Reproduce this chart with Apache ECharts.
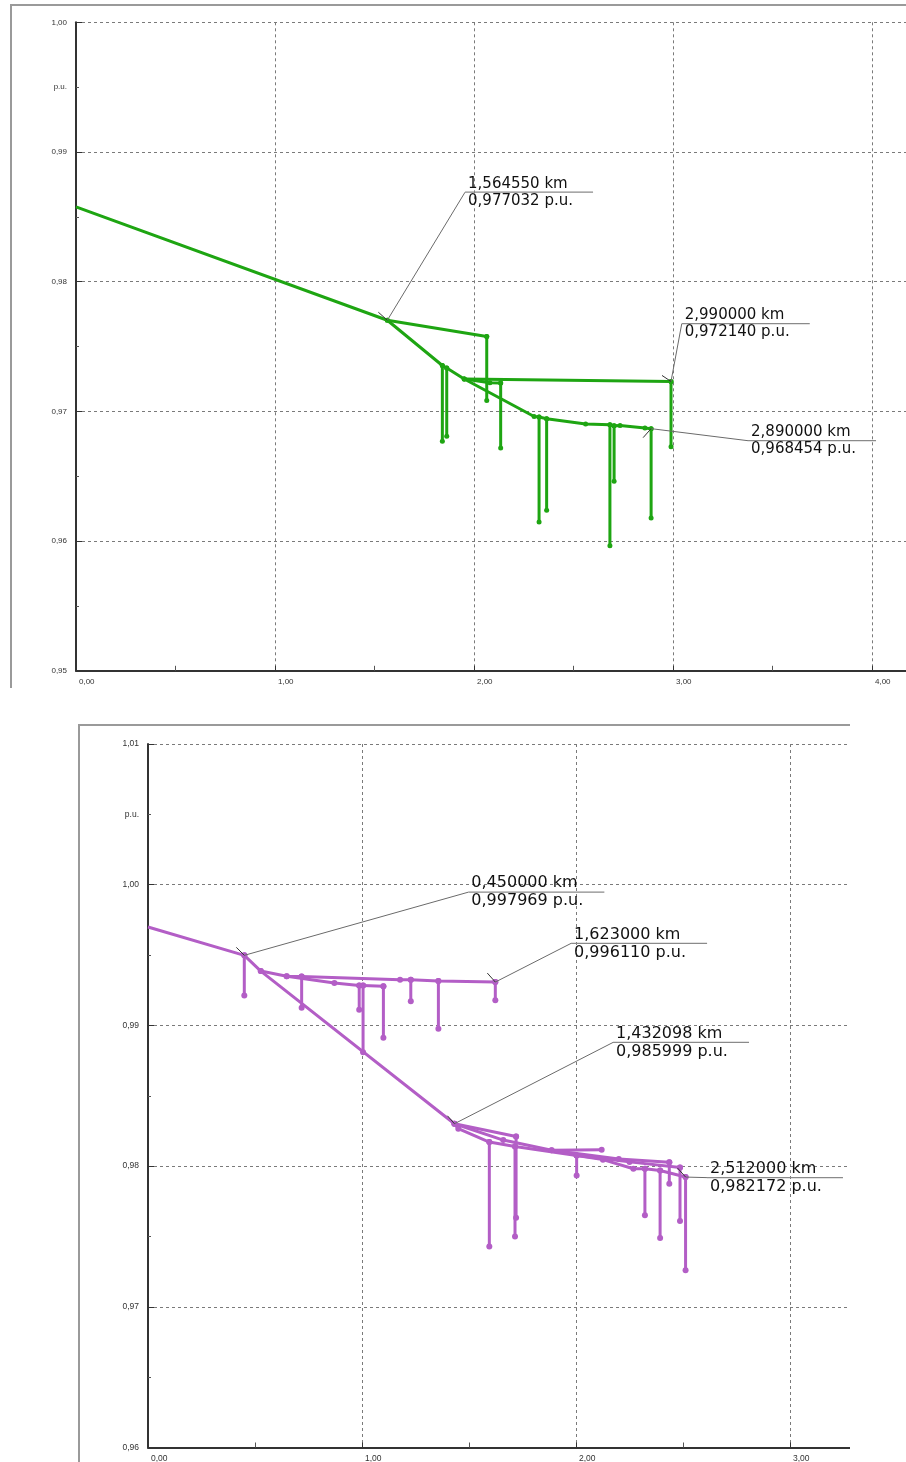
<!DOCTYPE html>
<html>
<head>
<meta charset="utf-8">
<script src="https://cdn.jsdelivr.net/npm/echarts@6/dist/echarts.min.js"></script>
<style>
  html, body { margin:0; padding:0; background:#fff; }
  body { width:906px; height:1462px; position:relative; overflow:hidden; }
  .ln { position:absolute; background:#9a9a9a; }
  #c1 { position:absolute; left:11px; top:5px; width:895px; height:683px; }
  #c2 { position:absolute; left:79px; top:725px; width:771px; height:737px; }
</style>
</head>
<body>
<div class="ln" style="left:10px;top:4px;width:896px;height:1.5px"></div>
<div class="ln" style="left:10px;top:4px;width:1.5px;height:684px"></div>
<div class="ln" style="left:78px;top:724px;width:772px;height:1.5px"></div>
<div class="ln" style="left:78px;top:724px;width:1.5px;height:738px"></div>
<div id="c1"></div>
<div id="c2"></div>
<script>
// ===== Top chart (green) data: [km, p.u.] =====
const greenMain = [[0,0.98577],[1.5645,0.97703],[1.841,0.97354],[1.863,0.97334],[1.951,0.97250],[2.302,0.96961],[2.327,0.96957],[2.365,0.96944],[2.561,0.96903],[2.683,0.96898],[2.704,0.96890],[2.734,0.96892],[2.859,0.96872],[2.89,0.96867]];
const greenBranchA = [[1.5645,0.97703],[2.064,0.97578]];
const greenBranchC = [[1.951,0.97250],[2.080,0.97221],[2.134,0.97219]];
const greenBranchD = [[1.951,0.97250],[2.99,0.97231]];
// drops: [km, from, to]
const greenDrops = [[1.841,0.97354,0.96769],[1.863,0.97334,0.96809],[2.064,0.97578,0.97085],[2.134,0.97219,0.96718],[2.99,0.97231,0.96728],[2.327,0.96957,0.96148],[2.365,0.96944,0.96237],[2.683,0.96898,0.95965],[2.704,0.96890,0.96461],[2.89,0.96867,0.96179]];
// annotations: [km, pu, labelKm, labelPu]
const greenNotes = [[1.5645,0.97703,1.955,0.98690],[2.99,0.97231,3.044,0.97676],[2.89,0.96867,3.377,0.96774]];
const greenNoteText = [["1,564550 km","0,977032 p.u."],["2,990000 km","0,972140 p.u."],["2,890000 km","0,968454 p.u."]];
const greenTicks = [[-9,-8],[-9,-6],[-8,9]];

// ===== Bottom chart (purple) data =====
const purpleMain = [[0,0.99699],[0.45,0.99498],[0.527,0.99386],[1.432,0.98301],[1.45,0.98266],[1.595,0.98171],[1.715,0.98140],[2.003,0.98076],[2.126,0.98046],[2.268,0.97981],[2.322,0.97981],[2.393,0.97969],[2.512,0.97922]];
const purpleUpper1 = [[0.527,0.99386],[0.648,0.99350],[0.718,0.99348],[1.178,0.99325],[1.228,0.99325],[1.357,0.99315],[1.623,0.99308]];
const purpleUpper2 = [[0.648,0.99350],[0.871,0.99301],[0.987,0.99284],[1.005,0.99284],[1.100,0.99279]];
const purpleB1 = [[1.432,0.98301],[1.72,0.98211]];
const purpleB2 = [[1.432,0.98301],[1.66,0.98185],[1.886,0.98112],[2.12,0.98117]];
const purpleB3 = [[1.886,0.98112],[2.20,0.98050],[2.436,0.98028]];
const purpleB4 = [[2.003,0.98076],[2.25,0.98030],[2.486,0.97990]];
const purpleDrops = [[0.45,0.99498,0.99213],[0.718,0.99348,0.99126],[0.987,0.99284,0.99112],[1.005,0.99284,0.98810],[1.100,0.99279,0.98913],[1.228,0.99325,0.99171],[1.357,0.99315,0.98977],[1.623,0.99308,0.99178],[1.595,0.98171,0.97429],[1.715,0.98140,0.97500],[1.72,0.98211,0.97633],[2.003,0.98076,0.97934],[2.322,0.97981,0.97650],[2.393,0.97969,0.97489],[2.436,0.98028,0.97875],[2.486,0.97990,0.97609],[2.512,0.97922,0.97259]];
const purpleNotes = [[0.45,0.99498,1.497,0.99947],[1.623,0.99308,1.977,0.99583],[1.432,0.98301,2.173,0.98879],[2.512,0.97922,2.612,0.97918]];
const purpleNoteText = [["0,450000 km","0,997969 p.u."],["1,623000 km","0,996110 p.u."],["1,432098 km","0,985999 p.u."],["2,512000 km","0,982172 p.u."]];
const purpleTicks = [[-8,-8],[-8,-9],[-7,-8],[-8,-9]];

const fmt = v => v.toFixed(2).replace('.', ',');
const tickFont = "'Liberation Sans Narrow','Arial Narrow','Liberation Sans',sans-serif";

function build(cfg) {
  const series = [];
  cfg.paths.forEach((p, pi) => {
    series.push({
      type:'line', xAxisIndex:0, yAxisIndex:0, animation:false, silent:true,
      data: p.map((pt, i) => (pi === 0 && i === 0) ? {value: pt, symbol:'none'} : pt),
      symbol:'circle', symbolSize: cfg.dot, showSymbol:true,
      lineStyle:{color: cfg.color, width: cfg.lw},
      itemStyle:{color: cfg.color}, z:3
    });
  });
  cfg.drops.forEach(d => {
    series.push({
      type:'line', animation:false, silent:true,
      data: [[d[0], d[1]], [d[0], d[2]]],
      symbol:'circle', symbolSize: cfg.dot,
      lineStyle:{color: cfg.color, width: cfg.lw},
      itemStyle:{color: cfg.color}, z:3
    });
  });
  series.push({
    type:'custom', animation:false, silent:true, clip:false, z:5,
    data: cfg.notes.map((n, i) => [n[0], n[1], n[2], n[3], i]),
    encode:{x:[0,2], y:[1,3]},
    renderItem: function (params, api) {
      const i = api.value(4);
      const p = api.coord([api.value(0), api.value(1)]);
      const q = api.coord([api.value(2), api.value(3)]);
      const t = cfg.ticks[i];
      const txt = cfg.texts[i];
      return {
        type:'group',
        children:[
          {type:'line', shape:{x1:p[0], y1:p[1], x2:q[0], y2:q[1]}, style:{stroke:'#6a6a6a', lineWidth:1}},
          {type:'line', shape:{x1:p[0], y1:p[1], x2:p[0]+t[0], y2:p[1]+t[1]}, style:{stroke:'#333', lineWidth:1}},
          {type:'line', shape:{x1:q[0], y1:q[1], x2:q[0]+cfg.sep, y2:q[1]}, style:{stroke:'#8a8a8a', lineWidth:1.2}},
          {type:'text', x:q[0]+3, y:q[1]-1, style:{text:txt[0], fill:'#111', font: cfg.noteFont, align:'left', verticalAlign:'bottom', textAlign:'left', textVerticalAlign:'bottom'}},
          {type:'text', x:q[0]+3, y:q[1]+1, style:{text:txt[1], fill:'#111', font: cfg.noteFont, align:'left', verticalAlign:'top', textAlign:'left', textVerticalAlign:'top'}}
        ]
      };
    }
  });

  const gridLine = {show:true, lineStyle:{color:'#7a7a7a', type:[3,3], width:1}};
  return {
    animation:false,
    grid:{left:cfg.left, top:cfg.top, width:cfg.width, height:cfg.height, containLabel:false, outerBoundsMode:'none'},
    xAxis:{
      type:'value', min:0, max:cfg.xmax, interval:1,
      axisLine:{show:true, onZero:false, lineStyle:{color:'#333', width:2}},
      axisTick:{show:true, inside:true, length:5, lineStyle:{color:'#333'}},
      minorTick:{show:true, splitNumber:2, length:5, lineStyle:{color:'#555'}},
      minorSplitLine:{show:false},
      splitLine: gridLine,
      axisLabel:{show:true, formatter: v => (Math.abs(v - Math.round(v)) < 1e-6 ? fmt(v) : ''), align:'left', margin:cfg.xLabelMargin, padding:[0,0,0,3], fontSize:cfg.tickSize, fontFamily:tickFont, color:'#333'}
    },
    yAxis:[{
      type:'value', min:cfg.ymin, max:cfg.ymax, interval:0.01,
      axisLine:{show:true, onZero:false, lineStyle:{color:'#333', width:2}},
      axisTick:{show:true, inside:true, length:6, lineStyle:{color:'#333'}},
      minorTick:{show:true, splitNumber:2, length:3, lineStyle:{color:'#555'}},
      minorSplitLine:{show:false},
      splitLine: gridLine,
      axisLabel:{formatter: fmt, margin:9, fontSize:cfg.tickSize, fontFamily:tickFont, color:'#333'}
    },{
      type:'value', min:cfg.ymin, max:cfg.ymax, interval:0.005, position:'left',
      axisLine:{show:false}, axisTick:{show:false}, splitLine:{show:false},
      axisLabel:{formatter: v => (Math.abs(v - cfg.puAt) < 1e-6 ? 'p.u.' : ''), margin:9, fontSize:cfg.tickSize, fontFamily:tickFont, color:'#333'}
    }],
    series: series
  };
}

const chartTop = echarts.init(document.getElementById('c1'), null, {renderer:'canvas'});
chartTop.setOption(build({
  left:65, top:17.3, width:895.5, height:648.5, xmax:4.5, ymin:0.95, ymax:1.00, puAt:0.995,
  paths:[greenMain, greenBranchA, greenBranchC, greenBranchD], drops:greenDrops,
  notes:greenNotes, texts:greenNoteText, ticks:greenTicks,
  color:'#1ea512', lw:3, dot:5, sep:128, noteFont:"15px 'DejaVu Sans', sans-serif",
  tickSize:8, xLabelMargin:7
}));

const chartBottom = echarts.init(document.getElementById('c2'), null, {renderer:'canvas'});
chartBottom.setOption(build({
  left:69, top:19, width:749, height:703.5, xmax:3.5, ymin:0.96, ymax:1.01, puAt:1.005,
  paths:[purpleMain, purpleUpper1, purpleUpper2, purpleB1, purpleB2, purpleB3, purpleB4], drops:purpleDrops,
  notes:purpleNotes, texts:purpleNoteText, ticks:purpleTicks,
  color:'#b35ec6', lw:3, dot:6, sep:136, noteFont:"16px 'DejaVu Sans', sans-serif",
  tickSize:8.5, xLabelMargin:7
}));
</script>
</body>
</html>
